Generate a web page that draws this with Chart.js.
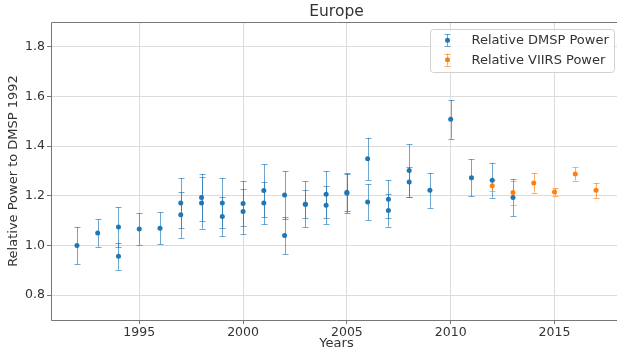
<!DOCTYPE html>
<html>
<head>
<meta charset="utf-8">
<title>Europe</title>
<script src="https://cdn.jsdelivr.net/npm/chart.js@4.4.0/dist/chart.umd.min.js"></script>
<style>
  html, body { margin: 0; padding: 0; background: #fff; overflow: hidden; }
  /* the axes run slightly past the right edge of the picture, like the original */
  #wrap { width: 617px; height: 352px; overflow: hidden; }
</style>
</head>
<body>
<div id="wrap"><canvas id="myChart" width="622" height="352"></canvas></div>
<script>
// DMSP has several satellites in some years, so those years show up twice
const dmspYears = [1992, 1993, 1994, 1994, 1995, 1996, 1997, 1997, 1998, 1998, 1999, 1999,
    2000, 2000, 2001, 2001, 2002, 2002, 2003, 2003, 2004, 2004, 2005, 2005, 2006, 2006,
    2007, 2007, 2008, 2008, 2009, 2010, 2011, 2012, 2013];
const dmspPower = [1.000, 1.050, 1.074, 0.957, 1.066, 1.069, 1.171, 1.124, 1.193, 1.171, 1.171, 1.117,
    1.169, 1.137, 1.221, 1.171, 1.203, 1.040, 1.166, 1.166, 1.206, 1.162, 1.214, 1.210, 1.349, 1.175,
    1.186, 1.141, 1.302, 1.256, 1.222, 1.508, 1.273, 1.263, 1.193];
const dmspError = [0.075, 0.055, 0.080, 0.055, 0.064, 0.064, 0.100, 0.093, 0.095, 0.104, 0.100, 0.080,
    0.090, 0.090, 0.106, 0.086, 0.096, 0.074, 0.092, 0.056, 0.094, 0.076, 0.075, 0.080, 0.085, 0.072,
    0.077, 0.065, 0.105, 0.060, 0.070, 0.078, 0.075, 0.070, 0.075];

const viirsYears = [2012, 2013, 2014, 2015, 2016, 2017];
const viirsPower = [1.241, 1.213, 1.252, 1.215, 1.288, 1.222];
const viirsError = [0.022, 0.048, 0.040, 0.015, 0.027, 0.030];

const xTicks = [1995, 2000, 2005, 2010, 2015];
const yTicks = [0.8, 1.0, 1.2, 1.4, 1.6, 1.8];

const FONT = '"DejaVu Sans", sans-serif';
const TEXT = '#333';
const SPINE = '#777';

// vertical error bar with caps, used for the plot and the legend handles
function drawBar(ctx, px, top, bot) {
    const x = Math.round(px) + 0.5;
    ctx.beginPath();
    ctx.moveTo(x, top); ctx.lineTo(x, bot);
    ctx.moveTo(x - 3, Math.round(top) + 0.5); ctx.lineTo(x + 3, Math.round(top) + 0.5);
    ctx.moveTo(x - 3, Math.round(bot) + 0.5); ctx.lineTo(x + 3, Math.round(bot) + 0.5);
    ctx.stroke();
}

const errorBars = {
    id: 'errorBars',
    beforeDatasetsDraw(chart) {
        const { ctx, scales: { x, y } } = chart;
        chart.data.datasets.forEach((ds) => {
            ctx.save();
            ctx.strokeStyle = ds.errorColor;
            ctx.lineWidth = 1;
            ds.data.forEach((p, i) => {
                const px = x.getPixelForValue(p.x);
                drawBar(ctx, px, y.getPixelForValue(p.y + ds.errors[i]), y.getPixelForValue(p.y - ds.errors[i]));
            });
            ctx.restore();
        });
    }
};

// spines, title and a matplotlib-like legend inside the axes
const frame = {
    id: 'frame',
    afterDraw(chart) {
        const { ctx, chartArea: a } = chart;
        ctx.save();
        ctx.strokeStyle = SPINE;
        ctx.lineWidth = 1;
        const t = Math.round(a.top) + 0.5, b = Math.round(a.bottom) + 0.5, l = Math.round(a.left) + 0.5;
        ctx.beginPath();
        ctx.moveTo(a.right, t); ctx.lineTo(l, t); ctx.lineTo(l, b); ctx.lineTo(a.right, b);
        ctx.stroke();

        ctx.fillStyle = TEXT;
        ctx.font = '15.5px ' + FONT;
        ctx.textAlign = 'center';
        ctx.textBaseline = 'middle';
        ctx.fillText('Europe', (a.left + a.right) / 2, 11.5);

        ctx.font = '13px ' + FONT;
        const labels = chart.data.datasets.map(d => d.label);
        const textW = Math.max(...labels.map(lb => ctx.measureText(lb).width));
        const fs = 13, pad = 5.2, handle = 26, gap = 10.4, row = 19.5;
        const w = textW + 2 * pad + handle + gap;
        const h = labels.length * row + 2 * pad - 6.5;
        const right = a.right - 8;
        const left = right - w;
        const top = a.top + 6.5;
        ctx.fillStyle = 'rgba(255,255,255,0.85)';
        ctx.strokeStyle = '#d0d0d0';
        ctx.beginPath();
        ctx.roundRect(Math.round(left) + 0.5, Math.round(top) + 0.5, Math.round(w), Math.round(h), 3);
        ctx.fill();
        ctx.stroke();

        chart.data.datasets.forEach((ds, i) => {
            const cy = top + pad + fs / 2 + i * row;
            const hx = left + pad + handle / 2 - 1;
            ctx.strokeStyle = ds.errorColor;
            drawBar(ctx, hx, cy - 6, cy + 6);
            ctx.fillStyle = ds.backgroundColor;
            ctx.beginPath();
            ctx.arc(Math.round(hx) + 0.5, cy, 2.5, 0, Math.PI * 2);
            ctx.fill();
            ctx.fillStyle = TEXT;
            ctx.textAlign = 'left';
            ctx.fillText(ds.label, left + pad + handle + gap, cy + 0.5);
        });
        ctx.restore();
    }
};

const data = {
    datasets: [{
        label: 'Relative DMSP Power',
        data: dmspYears.map((yr, i) => ({ x: yr, y: dmspPower[i] })),
        errors: dmspError,
        backgroundColor: '#1f77b4',
        borderColor: '#1f77b4',
        errorColor: 'rgba(31,119,180,0.65)',
        pointRadius: 2.5,
        borderWidth: 0
    }, {
        label: 'Relative VIIRS Power',
        data: viirsYears.map((yr, i) => ({ x: yr, y: viirsPower[i] })),
        errors: viirsError,
        backgroundColor: '#ff7f0e',
        borderColor: '#ff7f0e',
        errorColor: 'rgba(255,127,14,0.65)',
        pointRadius: 2.5,
        borderWidth: 0
    }]
};

const config = {
    type: 'scatter',
    data: data,
    options: {
        responsive: false,
        animation: false,
        layout: { autoPadding: false, padding: { top: 22, right: 0, bottom: 0, left: 0 } },
        plugins: { legend: { display: false }, tooltip: { enabled: false } },
        scales: {
            x: {
                type: 'linear',
                min: 1990.75,
                max: 2018.25,
                afterBuildTicks: (s) => { s.ticks = xTicks.map(v => ({ value: v })); },
                afterFit: (s) => { s.height = 32; },
                grid: { color: '#dcdcdc', tickColor: SPINE, tickLength: 4 },
                border: { display: false },
                ticks: { color: TEXT, font: { family: FONT, size: 12.5 }, padding: 1, maxRotation: 0,
                    callback: v => String(v) },
                title: { display: true, text: 'Years', color: TEXT, font: { family: FONT, size: 13 },
                    padding: { top: 0, bottom: 1 } }
            },
            y: {
                min: 0.7,
                max: 1.9,
                afterBuildTicks: (s) => { s.ticks = yTicks.map(v => ({ value: v })); },
                afterFit: (s) => { s.width = 51; },
                grid: { color: '#dcdcdc', tickColor: SPINE, tickLength: 4 },
                border: { display: false },
                ticks: { color: TEXT, font: { family: FONT, size: 12.5 }, padding: 2,
                    callback: v => v.toFixed(1) },
                title: { display: true, text: 'Relative Power to DMSP 1992', color: TEXT,
                    font: { family: FONT, size: 13 }, padding: { top: 6, bottom: 0 } }
            }
        }
    },
    plugins: [errorBars, frame]
};

const myChart = new Chart(document.getElementById('myChart'), config);
</script>
</body>
</html>
